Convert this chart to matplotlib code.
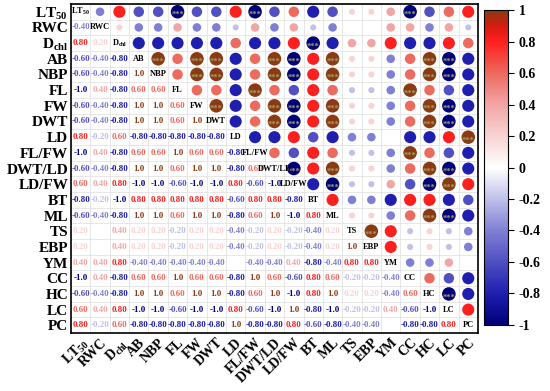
import matplotlib
matplotlib.use('Agg')
import matplotlib.pyplot as plt
import numpy as np
from matplotlib.colors import LinearSegmentedColormap, Normalize
from matplotlib.cm import ScalarMappable

plt.rcParams['font.family'] = 'Liberation Serif'
plt.rcParams['font.weight'] = 'bold'
plt.rcParams['mathtext.fontset'] = 'custom'
plt.rcParams['mathtext.rm'] = 'Liberation Serif:bold'
plt.rcParams['mathtext.it'] = 'Liberation Serif:bold'
plt.rcParams['mathtext.bf'] = 'Liberation Serif:bold'

# variable names
labels = ['LT$_{50}$', 'RWC', 'D$_{chl}$', 'AB', 'NBP', 'FL', 'FW', 'DWT', 'LD',
          'FL/FW', 'DWT/LD', 'LD/FW', 'BT', 'ML', 'TS', 'EBP', 'YM', 'CC',
          'HC', 'LC', 'PC']
diag_labels = ['LT$_{50}$', 'RWC', 'D$_{chl}$', 'AB', 'NBP', 'FL', 'FW', 'DWT', 'LD',
               'FL/FW', 'DWT/LD', 'LD/FW', 'BT', 'ML', 'TS', 'EBP', 'YM', 'CC',
               'HC', 'LC', 'PC']

# lower triangle of the correlation matrix (row i, columns 0..i-1)
r_rwc = [-0.4]
r_dchl = [0.8, 0.2]
r_ab = [-0.6, -0.4, -0.8]
r_nbp = [-0.6, -0.4, -0.8, 1.0]
r_fl = [-1.0, 0.4, -0.8, 0.6, 0.6]
r_fw = [-0.6, -0.4, -0.8, 1.0, 1.0, 0.6]
r_dwt = [-0.6, -0.4, -0.8, 1.0, 1.0, 0.6, 1.0]
r_ld = [0.8, -0.2, 0.6, -0.8, -0.8, -0.8, -0.8, -0.8]
r_flfw = [-1.0, 0.4, -0.8, 0.6, 0.6, 1.0, 0.6, 0.6, -0.8]
r_dwtld = [-0.6, -0.4, -0.8, 1.0, 1.0, 0.6, 1.0, 1.0, -0.8, 0.6]
r_ldfw = [0.6, 0.4, 0.8, -1.0, -1.0, -0.6, -1.0, -1.0, 0.8, -0.6, -1.0]
r_bt = [-0.8, -0.2, -1.0, 0.8, 0.8, 0.8, 0.8, 0.8, -0.6, 0.8, 0.8, -0.8]
r_ml = [-0.6, -0.4, -0.8, 1.0, 1.0, 0.6, 1.0, 1.0, -0.8, 0.6, 1.0, -1.0, 0.8]
r_ts = [0.2, 0, 0.4, 0.2, 0.2, -0.2, 0.2, 0.2, -0.4, -0.2, 0.2, -0.2, -0.4, 0.2]
r_ebp = [0.2, 0, 0.4, 0.2, 0.2, -0.2, 0.2, 0.2, -0.4, -0.2, 0.2, -0.2, -0.4, 0.2, 1.0]
r_ym = [0.4, 0.4, 0.8, -0.4, -0.4, -0.4, -0.4, -0.4, 0, -0.4, -0.4, 0.4, -0.8, -0.4, 0.8, 0.8]
r_cc = [-1.0, 0.4, -0.8, 0.6, 0.6, 1.0, 0.6, 0.6, -0.8, 1.0, 0.6, -0.6, 0.8, 0.6, -0.2, -0.2, -0.4]
r_hc = [-0.6, -0.4, -0.8, 1.0, 1.0, 0.6, 1.0, 1.0, -0.8, 0.6, 1.0, -1.0, 0.8, 1.0, 0.2, 0.2, -0.4, 0.6]
r_lc = [0.6, 0.4, 0.8, -1.0, -1.0, -0.6, -1.0, -1.0, 0.8, -0.6, -1.0, 1.0, -0.8, -1.0, -0.2, -0.2, 0.4, -0.6, -1.0]
r_pc = [0.8, -0.2, 0.6, -0.8, -0.8, -0.8, -0.8, -0.8, 1.0, -0.8, -0.8, 0.8, -0.6, -0.8, -0.4, -0.4, 0, -0.8, -0.8, 0.8]

lower = [[], r_rwc, r_dchl, r_ab, r_nbp, r_fl, r_fw, r_dwt, r_ld, r_flfw, r_dwtld,
         r_ldfw, r_bt, r_ml, r_ts, r_ebp, r_ym, r_cc, r_hc, r_lc, r_pc]

n = len(labels)
corr = np.eye(n)
for i, row in enumerate(lower):
    for j, v in enumerate(row):
        corr[i, j] = v
        corr[j, i] = v

cmap = LinearSegmentedColormap.from_list('corr', [
    (0.0, '#00007A'), (0.1, '#1F1FB0'), (0.3, '#8080D4'), (0.5, '#FFFFFF'),
    (0.7, '#F2A6A6'), (0.8, '#EC6A5E'), (0.9, '#FF2020'), (0.95, '#D81A10'),
    (1.0, '#8B3A14')])
norm = Normalize(-1, 1)

fig = plt.figure(figsize=(5.5, 3.91), dpi=100)
ax = fig.add_axes([0.129, 0.148, 0.740, 0.842])
ax.set_xlim(-0.5, n - 0.5)
ax.set_ylim(n - 0.5, -0.5)

# cell grid
for k in range(n + 1):
    ax.axhline(k - 0.5, color='#DDDDDD', lw=0.5, zorder=0)
    ax.axvline(k - 0.5, color='#DDDDDD', lw=0.5, zorder=0)

# upper triangle: circles
xs, ys, ss, cs = [], [], [], []
for i in range(n):
    for j in range(i + 1, n):
        v = corr[i, j]
        if v == 0:
            continue
        xs.append(j)
        ys.append(i)
        ss.append(95 * abs(v))
        cs.append(v)
ax.scatter(xs, ys, s=ss, c=cs, cmap=cmap, norm=norm, edgecolors='none', zorder=2)

for i in range(n):
    for j in range(i + 1, n):
        if abs(corr[i, j]) >= 1.0:
            ax.text(j, i + 0.22, '***', ha='center', va='center', fontsize=6,
                    color='#9DA060', zorder=3)

# lower triangle: numbers
for i in range(n):
    for j in range(i):
        v = corr[i, j]
        if v == 0:
            continue
        txt = '%.1f' % v if abs(v) == 1 else '%.2f' % v
        ax.text(j, i, txt, ha='center', va='center', fontsize=6.5,
                color=cmap(norm(v)), fontweight='bold', zorder=3)

# diagonal: names
for i in range(n):
    ax.text(i, i, diag_labels[i], ha='center', va='center', fontsize=6,
            color='black', fontweight='bold', zorder=3)

ax.set_xticks(range(n))
ax.set_yticks(range(n))
ax.set_xticklabels(labels, rotation=45, ha='right', va='top',
                   rotation_mode='anchor', fontsize=10, fontweight='bold')
ax.set_yticklabels(labels, fontsize=11, fontweight='bold')
ax.tick_params(length=0, pad=2)
for sp in ax.spines.values():
    sp.set_linewidth(1.2)

# colorbar
cax = fig.add_axes([0.880, 0.169, 0.044, 0.805])
cb = fig.colorbar(ScalarMappable(norm=norm, cmap=cmap), cax=cax)
ticks = [-1, -0.8, -0.6, -0.4, -0.2, 0, 0.2, 0.4, 0.6, 0.8, 1]
cb.set_ticks(ticks)
cb.set_ticklabels(['-1', '-0.8', '-0.6', '-0.4', '-0.2', '0', '0.2', '0.4', '0.6', '0.8', '1'])
cb.ax.tick_params(labelsize=10, length=4, width=0.8)
for t in cb.ax.get_yticklabels():
    t.set_fontweight('bold')
cb.outline.set_linewidth(0.8)

fig.savefig('out.png', dpi=100)
